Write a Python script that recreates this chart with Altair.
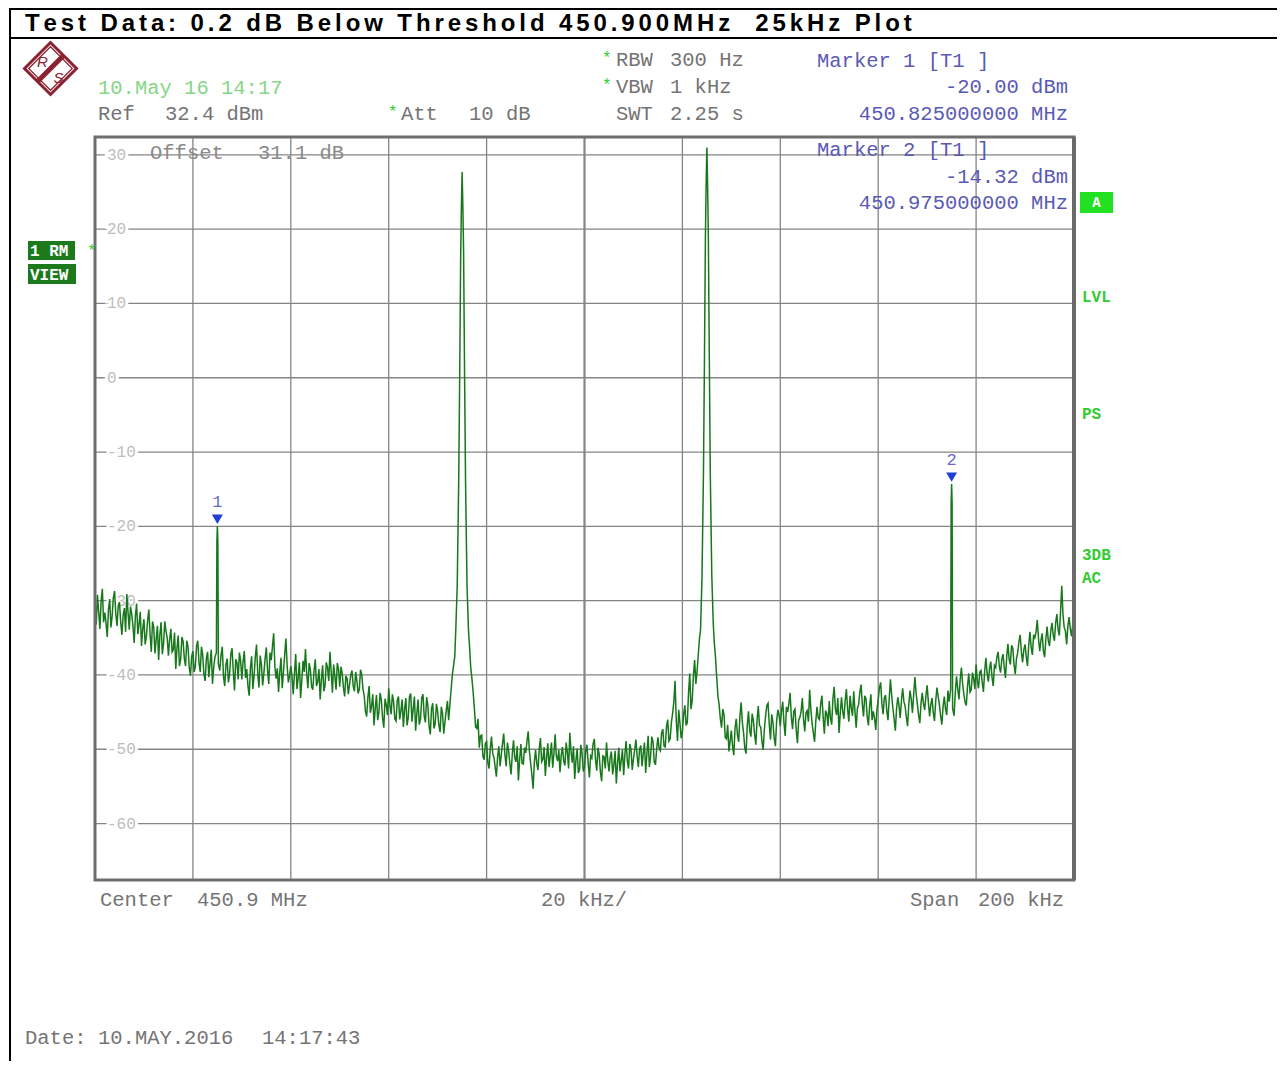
import altair as alt
import pandas as pd

# ---------------- data ----------------
# sweep points: offset from 450.800 MHz in kHz (0.5 kHz sweep grid), level in dBm
offset_khz = [i * 0.5 for i in range(401)]
level_dbm = [
    -30.5, -29.2, -33.8, -28.4, -31.6, -34.9, -29.8, -32.1, -28.7, -33.4,
    -30.2, -34.6, -31.0, -29.1, -33.9, -31.8, -35.7, -30.4, -33.2, -36.1,
    -32.5, -34.8, -31.2, -36.9, -33.6, -35.2, -38.0, -32.9, -35.8, -34.1,
    -37.4, -33.8, -36.6, -39.2, -34.7, -37.9, -35.5, -38.8, -36.2, -40.1,
    -36.8, -38.9, -35.4, -39.6, -37.3, -40.8, -36.9, -38.5, -41.2, -37.6,
    -20.0, -39.4, -36.2, -41.5, -37.8, -39.9, -36.4, -42.1, -38.3, -37.0,
    -40.6, -36.8, -39.2, -42.8, -37.5, -40.1, -35.9, -41.7, -38.6, -39.8,
    -36.3, -41.2, -38.0, -34.4, -40.5, -42.3, -37.7, -39.6, -35.1, -41.0,
    -38.8, -42.6, -37.2, -40.4, -43.1, -38.1, -36.5, -41.8, -39.3, -42.0,
    -37.9, -40.9, -43.3, -38.7, -41.4, -39.0, -36.9, -42.4, -40.2, -38.4,
    -41.6, -39.8, -42.9, -40.5, -41.3, -39.4, -42.2, -40.8, -41.9, -40.0,
    -42.8, -45.6, -41.5, -44.2, -46.8, -42.7, -45.0, -43.4, -47.1, -44.0,
    -41.8, -45.3, -43.6, -46.2, -42.9, -44.8, -47.0, -43.1, -45.7, -42.5,
    -44.6, -47.5, -43.3, -45.9, -42.6, -46.4, -44.1, -48.0, -43.8, -46.6,
    -44.9, -47.7, -45.2, -46.3, -43.5, -44.0, -40.0, -37.5, -28.0, 0.0,
    27.7, 0.5, -28.0, -36.0, -40.5, -44.5, -47.2, -49.8, -48.1, -51.4,
    -49.0, -52.6, -48.3, -51.1, -53.7, -49.6, -50.8, -47.9, -52.3, -50.2,
    -53.4, -48.8, -51.7, -54.2, -49.3, -52.0, -50.5, -47.6, -51.9, -55.3,
    -50.1, -52.8, -48.5, -51.4, -53.6, -49.2, -50.9, -52.5, -48.0, -51.6,
    -53.1, -49.7, -52.2, -50.4, -47.8, -51.8, -54.0, -49.9, -52.7, -50.6,
    -52.4, -49.4, -53.8, -51.2, -48.6, -52.9, -50.7, -54.3, -51.0, -49.1,
    -53.0, -50.3, -52.1, -54.6, -49.8, -51.5, -53.5, -48.9, -52.6, -50.0,
    -51.3, -48.7, -52.4, -49.5, -50.6, -53.2, -48.2, -51.0, -49.0, -52.1,
    -48.4, -50.2, -47.3, -49.7, -46.0, -48.6, -45.2, -40.8, -48.9, -46.5,
    -47.6, -44.1, -46.4, -39.8, -43.5, -38.0, -39.5, -35.0, -27.0, 2.0,
    31.0, 2.5, -26.5, -35.5, -40.2, -44.0, -47.1, -45.3, -48.6, -50.3,
    -47.5, -50.8, -45.9, -49.0, -43.7, -47.8, -50.6, -44.9, -48.3, -46.1,
    -49.4, -44.2, -47.0, -50.1, -45.5, -43.8, -48.7, -46.4, -49.6, -44.7,
    -46.9, -43.6, -48.2, -45.0, -42.4, -47.3, -44.6, -49.2, -45.7, -43.1,
    -47.6, -44.8, -42.0, -46.6, -49.0, -44.3, -46.0, -42.8, -47.9, -45.2,
    -43.5, -46.7, -41.6, -45.4, -47.8, -43.0, -45.9, -41.9, -46.3, -44.4,
    -42.2, -47.1, -44.0, -41.3, -45.6, -43.2, -46.8, -42.6, -44.9, -47.4,
    -43.4, -41.0, -45.3, -42.7, -46.1, -40.6, -44.5, -47.5, -43.0, -45.8,
    -41.8, -44.2, -46.9, -42.1, -45.1, -40.3, -43.9, -46.5, -42.4, -44.7,
    -41.4, -45.6, -43.1, -46.2, -41.7, -44.0, -46.7, -42.9, -45.4, -43.6,
    -14.32, -45.5, -40.2, -43.3, -39.0, -42.6, -44.1, -39.8, -42.0, -40.5,
    -38.6, -41.8, -39.4, -42.3, -37.7, -40.9, -38.2, -41.5, -39.0, -36.9,
    -39.7, -37.2, -40.4, -35.8, -38.6, -36.4, -39.9, -37.0, -34.6, -38.3,
    -35.9, -38.8, -34.2, -37.3, -35.0, -32.6, -36.8, -34.4, -37.6, -33.5,
    -36.1, -33.0, -35.4, -31.8, -34.7, -28.0, -33.6, -35.9, -32.2, -34.8,
    -35.6,
]
# in-between sweep points (offset + 0.25 kHz); None where the carriers/spurs lie
mid_offset_khz = [i * 0.5 + 0.25 for i in range(400)]
mid_level_dbm = [
    -33.2, -31.5, -30.1, -32.9, -33.0, -31.2, -33.6, -29.6, -31.8, -30.7,
    -32.9, -32.0, -34.2, -31.6, -30.8, -33.4, -32.1, -34.5, -31.5, -33.8,
    -35.9, -32.7, -34.5, -32.8, -37.1, -33.4, -34.6, -37.2, -32.8, -35.0,
    -35.2, -36.9, -34.3, -36.4, -38.8, -34.9, -37.8, -35.4, -39.0, -37.5,
    -39.6, -36.1, -38.4, -36.2, -39.9, -37.8, -40.3, -36.6, -39.0, None,
    None, -37.3, -40.2, -38.6, -41.0, -37.2, -39.5, -37.9, -40.6, -38.1,
    -38.2, -40.4, -41.5, -39.0, -41.9, -37.6, -39.8, -37.4, -41.4, -37.8,
    -39.4, -37.0, -36.2, -38.9, -39.1, -39.6, -41.8, -37.3, -38.7, -40.1,
    -40.2, -39.8, -41.9, -38.3, -40.7, -39.6, -39.9, -38.4, -41.6, -39.4,
    -41.5, -39.2, -40.6, -42.2, -38.3, -40.8, -39.5, -38.6, -42.0, -39.2,
    -38.9, -41.7, -40.1, -42.6, -40.0, -41.5, -39.6, -42.5, -39.3, -41.9,
    -44.9, -43.0, -45.1, -42.6, -44.5, -46.1, -42.4, -45.8, -43.2, -45.4,
    -44.0, -42.6, -45.9, -43.4, -46.0, -43.3, -44.6, -46.8, -42.9, -46.3,
    -42.9, -45.2, -46.7, -43.1, -45.5, -43.0, -46.9, -44.5, -47.2, -43.9,
    -46.8, -44.3, -47.9, -44.8, -46.1, -42.0, None, None, None, None,
    None, None, None, -38.9, -42.3, -47.0, -45.9, -48.2, -51.0, -49.2,
    -51.8, -49.9, -50.6, -52.4, -51.0, -52.3, -49.2, -50.8, -49.1, -51.9,
    -50.6, -51.2, -49.6, -51.4, -51.9, -49.8, -48.9, -50.3, -53.4, -51.8,
    -51.9, -50.0, -51.7, -49.7, -51.1, -52.4, -49.1, -50.6, -50.9, -50.1,
    -50.8, -51.6, -49.1, -52.6, -50.3, -49.6, -51.5, -53.2, -49.4, -53.0,
    -50.2, -51.9, -50.9, -49.3, -51.4, -49.8, -53.1, -50.9, -52.6, -51.5,
    -51.1, -53.4, -50.2, -51.9, -53.0, -50.1, -50.7, -51.6, -49.3, -52.8,
    -50.1, -50.9, -50.0, -52.3, -49.1, -50.6, -52.4, -48.3, -51.7, -49.9,
    -49.9, -47.8, -49.6, -47.0, -48.9, -46.4, -43.6, -46.2, -44.7, -48.5,
    -45.3, -46.8, -42.5, -44.6, -40.1, -41.2, None, None, None, None,
    None, None, None, -37.5, -42.8, -45.9, -44.6, -48.4, -46.7, -48.9,
    -49.6, -47.2, -48.1, -45.6, -46.4, -49.9, -46.8, -47.5, -45.2, -48.0,
    -46.1, -46.8, -48.9, -47.3, -44.1, -46.7, -45.3, -48.5, -46.2, -45.4,
    -44.8, -46.5, -44.3, -43.9, -45.6, -44.9, -47.4, -46.1, -44.9, -46.0,
    -45.1, -46.3, -44.7, -47.8, -46.2, -45.8, -43.9, -45.6, -44.8, -46.9,
    -45.8, -43.2, -44.6, -43.1, -45.2, -44.9, -43.5, -44.6, -42.8, -45.5,
    -44.9, -44.5, -42.3, -43.9, -42.8, -45.6, -44.2, -46.1, -45.8, -44.6,
    -41.7, -43.8, -43.1, -44.8, -43.2, -42.7, -45.9, -44.6, -44.1, -43.4,
    -43.6, -45.7, -44.0, -43.3, -42.6, -42.5, -45.4, -43.8, -43.9, -42.8,
    -43.7, -44.0, -45.1, -43.5, -42.9, -45.5, -44.3, -44.6, -42.1, None,
    None, -42.4, -41.9, -40.6, -41.2, -43.7, -41.5, -42.3, -39.7, -41.9,
    -40.8, -39.6, -41.0, -39.5, -39.8, -39.1, -40.3, -38.7, -37.6, -38.9,
    -37.9, -39.0, -37.6, -37.9, -36.0, -38.6, -37.8, -35.5, -36.9, -36.6,
    -37.6, -36.0, -36.3, -34.6, -34.2, -35.1, -35.3, -36.8, -35.2, -35.4,
    -34.1, -34.6, -33.0, -33.9, -31.5, -31.9, -34.1, -33.4, -33.8, -33.2,
]
# extra trace points on the narrow carriers and spurs
extra_khz = [24.8, 24.9, 25.1, 25.2,
             73.7, 74.3, 74.7, 74.85, 75.15, 75.3, 75.7, 76.3,
             123.7, 124.3, 124.7, 124.85, 125.15, 125.3, 125.7, 126.3,
             174.8, 174.9, 175.1, 175.2]
extra_dbm = [-37.0, -22.0, -22.0, -38.5,
             -34.0, -14.0, 16.0, 23.0, 23.0, 17.0, -14.0, -34.0,
             -34.0, -13.0, 19.0, 26.0, 26.0, 19.0, -13.0, -33.0,
             -42.0, -17.0, -17.0, -44.5]

grid_khz = [0, 20, 40, 60, 80, 100, 120, 140, 160, 180, 200]
grid_dbm = [30, 20, 10, 0, -10, -20, -30, -40, -50, -60]
grid_labels = ["30", "20", "10", "0", "-10", "-20", "-30", "-40", "-50", "-60"]

marker_khz = [25.0, 175.0]
marker_dbm = [-20.00, -14.32]
marker_names = ["1", "2"]

title_text = "Test Data: 0.2 dB Below Threshold 450.900MHz  25kHz Plot"

# ---------------- styling ----------------
W, H = 979, 743
MONO = "Liberation Mono"
SANS = "Liberation Sans"
GRAY = "#747474"
GRID = "#858585"
BLUE = "#5a5ab4"
LGREEN = "#33cc33"
DGREEN = "#1c7a1c"
MAROON = "#8a2232"

ONE = pd.DataFrame({"_": [0]})
xs = alt.Scale(domain=[0, 200], nice=False, zero=False)
ys = alt.Scale(domain=[-67.6, 32.4], nice=False, zero=False)


def text(t, x, y, color=GRAY, size=20.5, align="left", weight="normal",
         font=MONO, baseline="middle", style="normal"):
    return alt.Chart(ONE).mark_text(
        text=t, align=align, baseline=baseline, font=font, fontSize=size,
        fontWeight=weight, fontStyle=style, color=color
    ).encode(x=alt.value(x), y=alt.value(y))


def rect(x1, y1, x2, y2, color):
    return alt.Chart(ONE).mark_rect(color=color).encode(
        x=alt.value(x1), x2=alt.value(x2), y=alt.value(y1), y2=alt.value(y2))


def line(x1, y1, x2, y2, color, width):
    return alt.Chart(ONE).mark_rule(color=color, strokeWidth=width).encode(
        x=alt.value(x1), x2=alt.value(x2), y=alt.value(y1), y2=alt.value(y2))


layers = []

# frame of the page
layers.append(line(-85, -129, -85, 924, "#000000", 2))
layers.append(line(-85, -128, 1182, -128, "#000000", 2))
layers.append(line(-85, -99, 1182, -99, "#000000", 2))

# title with spaced lettering (Arial/Liberation Sans Bold advance widths)
ADV = {"T": 611, "e": 556, "s": 556, "t": 333, " ": 278, "D": 722, "a": 556,
       ":": 333, ".": 278, "d": 611, "B": 722, "l": 278, "o": 611, "w": 778,
       "h": 611, "r": 389, "M": 833, "H": 722, "z": 500, "k": 556, "P": 667}
TS, TRACK = 24, 3.9
chars, cx, pos = [], [], -70.0
for c in title_text:
    if c != " ":
        chars.append(c)
        cx.append(pos)
    pos += ADV.get(c, 556) * TS / 1000 + TRACK
title_df = pd.DataFrame({"ch": chars, "px": cx})
layers.append(alt.Chart(title_df).mark_text(
    align="left", baseline="alphabetic", font=SANS, fontSize=TS, fontWeight="bold",
    color="#000000").encode(
    x=alt.X("px:Q", scale=None, axis=None), y=alt.value(-106), text="ch:N"))

# grid
gv = alt.Chart(pd.DataFrame({"k": grid_khz})).mark_rule(color=GRID).encode(
    x=alt.X("k:Q", scale=xs, axis=None),
    strokeWidth=alt.condition(alt.datum.k == 100, alt.value(2.2), alt.value(1.3)))
gh = alt.Chart(pd.DataFrame({"v": grid_dbm})).mark_rule(color=GRID, strokeWidth=1.3).encode(
    y=alt.Y("v:Q", scale=ys, axis=None))
layers += [gv, gh]

lab_df = pd.DataFrame({"v": grid_dbm, "lab": grid_labels})
halo = alt.Chart(lab_df).mark_text(align="left", baseline="middle", font=MONO, fontSize=16,
                                   color="white", stroke="white", strokeWidth=6).encode(
    x=alt.value(12), y=alt.Y("v:Q", scale=ys, axis=None), text="lab:N")
labs = alt.Chart(lab_df).mark_text(align="left", baseline="middle", font=MONO, fontSize=16,
                                   color="#bdbdbd").encode(
    x=alt.value(12), y=alt.Y("v:Q", scale=ys, axis=None), text="lab:N")
layers += [halo, labs]

# offset annotation (crossed by the top grid line)
layers.append(text("Offset", 55, 16, color="#8a8a8a"))
layers.append(text("31.1 dB", 163, 16, color="#8a8a8a"))

# trace
mid_pairs = [(k, v) for k, v in zip(mid_offset_khz, mid_level_dbm) if v is not None]
trace_df = pd.DataFrame({
    "k": offset_khz + [p[0] for p in mid_pairs] + extra_khz,
    "dbm": level_dbm + [p[1] for p in mid_pairs] + extra_dbm,
}).sort_values("k")
trace = alt.Chart(trace_df).mark_line(color="#16781a", strokeWidth=1.5).encode(
    x=alt.X("k:Q", scale=xs, axis=None), y=alt.Y("dbm:Q", scale=ys, axis=None))
layers.append(trace)

# plot border
border = alt.Chart(ONE).mark_rect(fillOpacity=0, stroke="#6e6e6e", strokeWidth=3).encode(
    x=alt.value(0), x2=alt.value(W), y=alt.value(0), y2=alt.value(H))
layers.append(border)
layers.append(line(W, 0, W, H, "#6a6a6a", 4))

# markers
mk_df = pd.DataFrame({"k": marker_khz, "dbm": marker_dbm, "name": marker_names})
mk_tri = alt.Chart(mk_df).mark_point(shape="triangle-down", filled=True, size=120,
                                      color="#1f3fd8", opacity=1, yOffset=-7).encode(
    x=alt.X("k:Q", scale=xs, axis=None), y=alt.Y("dbm:Q", scale=ys, axis=None))
mk_lab = alt.Chart(mk_df).mark_text(font=MONO, fontSize=17, color="#6b6bc8",
                                     baseline="middle", yOffset=-24).encode(
    x=alt.X("k:Q", scale=xs, axis=None), y=alt.Y("dbm:Q", scale=ys, axis=None), text="name:N")
layers += [mk_tri, mk_lab]

# R&S logo
lx, ly = -44.5, -68.5
layers.append(alt.Chart(ONE).mark_point(shape="diamond", size=2704, filled=False, color=MAROON,
                                        strokeWidth=3, opacity=1).encode(
    x=alt.value(lx), y=alt.value(ly)))
layers.append(alt.Chart(ONE).mark_point(shape="diamond", size=1900, filled=False, color=MAROON,
                                        strokeWidth=1.2, opacity=1).encode(
    x=alt.value(lx), y=alt.value(ly)))
layers.append(line(lx - 13, ly + 13, lx + 13, ly - 13, MAROON, 5))
layers.append(text("R", lx - 8, ly - 7, color=MAROON, size=15, font=SANS, align="center",
                   style="italic"))
layers.append(text("S", lx + 8, ly + 9, color=MAROON, size=15, font=SANS, align="center",
                   style="italic"))

# header texts
layers.append(text("10.May 16 14:17", 3, -49, color="#86d686"))
layers.append(text("Ref", 3, -23))
layers.append(text("32.4 dBm", 70, -23))
layers.append(text("*", 293, -25, color=LGREEN, size=16))
layers.append(text("Att", 306, -23))
layers.append(text("10 dB", 374, -23))
layers.append(text("*", 507, -79, color=LGREEN, size=16))
layers.append(text("RBW", 521, -77))
layers.append(text("300 Hz", 575, -77))
layers.append(text("*", 507, -52, color=LGREEN, size=16))
layers.append(text("VBW", 521, -50))
layers.append(text("1 kHz", 575, -50))
layers.append(text("SWT", 521, -23))
layers.append(text("2.25 s", 575, -23))
layers.append(text("Marker 1 [T1 ]", 722, -76, color=BLUE))
layers.append(text("-20.00 dBm", 973, -50, color=BLUE, align="right"))
layers.append(text("450.825000000 MHz", 973, -23, color=BLUE, align="right"))
layers.append(text("Marker 2 [T1 ]", 722, 13, color=BLUE))
layers.append(text("-14.32 dBm", 973, 40, color=BLUE, align="right"))
layers.append(text("450.975000000 MHz", 973, 66, color=BLUE, align="right"))

# left trace boxes
layers.append(rect(-67, 104, -20, 123, DGREEN))
layers.append(text("1 RM", -65, 114, color="white", size=16, weight="bold"))
layers.append(rect(-67, 127, -19, 147, DGREEN))
layers.append(text("VIEW", -65, 137.5, color="white", size=16, weight="bold"))
layers.append(text("*", -8, 114, color=LGREEN, size=16))

# right status labels
layers.append(rect(985, 55, 1018, 76, "#22e022"))
layers.append(text("A", 1001.5, 66, color="white", size=14, weight="bold", align="center"))
layers.append(text("LVL", 987, 160, color=LGREEN, size=16, weight="bold"))
layers.append(text("PS", 987, 277, color=LGREEN, size=16, weight="bold"))
layers.append(text("3DB", 987, 418, color=LGREEN, size=16, weight="bold"))
layers.append(text("AC", 987, 441, color=LGREEN, size=16, weight="bold"))

# bottom texts
layers.append(text("Center", 5, 763))
layers.append(text("450.9 MHz", 102, 763))
layers.append(text("20 kHz/", 446, 763))
layers.append(text("Span", 815, 763))
layers.append(text("200 kHz", 883, 763))
layers.append(text("Date:", -70, 901))
layers.append(text("10.MAY.2016", 3, 901))
layers.append(text("14:17:43", 167, 901))

chart = alt.layer(*layers).properties(
    width=W, height=H,
    padding={"left": 87, "top": 129, "right": 203, "bottom": 181},
    autosize=alt.AutoSizeParams(type="none"),
    background="white",
).configure_view(stroke=None)

chart.save("out.html", embed_options={"renderer": "svg", "actions": False})
